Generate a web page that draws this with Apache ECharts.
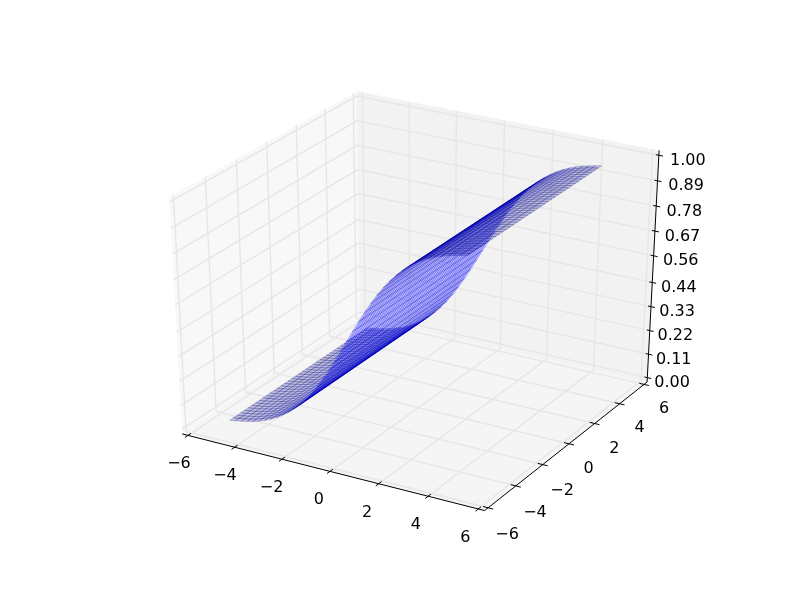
<!DOCTYPE html>
<html><head><meta charset="utf-8">
<style>html,body{margin:0;padding:0;background:#fff}#c{width:800px;height:600px}</style>
<script src="https://cdn.jsdelivr.net/npm/echarts@6/dist/echarts.min.js"></script>
</head><body><div id="c"></div>
<script>
const xTicks=[-6,-4,-2,0,2,4,6];
const yTicks=[-6,-4,-2,0,2,4,6];
const zTicks=[0,0.11,0.22,0.33,0.44,0.56,0.67,0.78,0.89,1];
const zTickLabels=['0.00','0.11','0.22','0.33','0.44','0.56','0.67','0.78','0.89','1.00'];
const gridX=[-5,-4.75,-4.5,-4.25,-4,-3.75,-3.5,-3.25,-3,-2.75,-2.5,-2.25,-2,-1.75,-1.5,-1.25,-1,-0.75,-0.5,-0.25,0,0.25,0.5,0.75,1,1.25,1.5,1.75,2,2.25,2.5,2.75,3,3.25,3.5,3.75,4,4.25,4.5,4.75];
const gridY=gridX;
const zProfile=[.018,.0219,.0266,.0323,.0392,.0474,.0573,.0691,.0832,.0998,.1192,.1419,.168,.1978,.2315,.2689,.31,.3543,.4013,.4502,.5,.5498,.5987,.6457,.69,.7311,.7685,.8022,.832,.8581,.8808,.9002,.9168,.9309,.9427,.9526,.9608,.9677,.9734,.9781];
const lo=-6.25,hi=6.25,zlo=-1/48,zhi=49/48;

function proj(x,y,z){
  const a=x/12,b=y/12,c=z-0.5, d=10;
  const n=[0.4330127,-0.75,0.5],u=[0.8660254,0.5,0],v=[-0.25,0.4330127,0.8660254];
  const w=d-(n[0]*a+n[1]*b+n[2]*c);
  const xp=(u[0]*a+u[1]*b)/w, yp=(v[0]*a+v[1]*b+v[2]*c)/w;
  return [100+(xp+0.095)/0.185*620, 60+(yp+0.095)/0.185*480, w];
}
const P=(api,p)=>{const q=proj(p[0],p[1],p[2]);return api.coord([q[0],q[1]]);};

const panes=[
 {pts:[[lo,lo,zlo],[lo,hi,zlo],[lo,hi,zhi],[lo,lo,zhi]],fill:'rgba(242,242,242,0.5)'},
 {pts:[[lo,hi,zlo],[hi,hi,zlo],[hi,hi,zhi],[lo,hi,zhi]],fill:'rgba(230,230,230,0.5)'},
 {pts:[[lo,lo,zlo],[hi,lo,zlo],[hi,hi,zlo],[lo,hi,zlo]],fill:'rgba(236,236,236,0.5)'}
];
const gridLines=[];
xTicks.forEach(t=>gridLines.push([[t,lo,zlo],[t,hi,zlo],[t,hi,zhi]]));
yTicks.forEach(t=>gridLines.push([[hi,t,zlo],[lo,t,zlo],[lo,t,zhi]]));
zTicks.forEach(t=>gridLines.push([[lo,lo,t],[lo,hi,t],[hi,hi,t]]));
const axisLines=[[[lo,lo,zlo],[hi,lo,zlo]],[[hi,lo,zlo],[hi,hi,zlo]],[[hi,hi,zlo],[hi,hi,zhi]]];
xTicks.forEach(t=>axisLines.push([[t,lo+0.2,zlo],[t,lo-0.2,zlo]]));
yTicks.forEach(t=>axisLines.push([[hi-0.2,t,zlo],[hi+0.2,t,zlo]]));
zTicks.forEach(t=>axisLines.push([[hi-0.12,hi,t],[hi+0.16,hi,t]]));

const cells=[];
for(let i=0;i<gridX.length-1;i++)for(let j=0;j<gridY.length-1;j++){
  const c=[[gridX[i],gridY[j],zProfile[i]],[gridX[i+1],gridY[j],zProfile[i+1]],[gridX[i+1],gridY[j+1],zProfile[i+1]],[gridX[i],gridY[j+1],zProfile[i]]];
  const d=c.reduce((s,p)=>s+proj(p[0],p[1],p[2])[2],0)/4;
  const dx=gridX[i+1]-gridX[i],dz=zProfile[i+1]-zProfile[i];
  const nn=Math.hypot(dz,dx);
  const sh=(dz*1+dx*0.5)/nn;
  cells.push({c,d,sh});
}
cells.sort((a,b)=>b.d-a.d);
const shs=cells.map(c=>c.sh),mn=Math.min(...shs),mx=Math.max(...shs);

const lerp=(a,b,f)=>a+f*(b-a);
const xLabelOff=[[-9,28.5],[-13,29]],yLabelOff=[[19,27],[20,24]],zLabelOff=[[24.7,5.5],[29,5.5]];
const labels=[];
xTicks.forEach((t,i)=>{const f=i/(xTicks.length-1);labels.push({p:[t,lo,zlo],o:[lerp(xLabelOff[0][0],xLabelOff[1][0],f),lerp(xLabelOff[0][1],xLabelOff[1][1],f)],s:String(t).replace('-','\u2212')});});
yTicks.forEach((t,i)=>{const f=i/(yTicks.length-1);labels.push({p:[hi,t,zlo],o:[lerp(yLabelOff[0][0],yLabelOff[1][0],f),lerp(yLabelOff[0][1],yLabelOff[1][1],f)],s:String(t).replace('-','\u2212')});});
zTicks.forEach((t,i)=>{const f=i/(zTicks.length-1);labels.push({p:[hi,hi,t],o:[lerp(zLabelOff[0][0],zLabelOff[1][0],f),5.5],s:zTickLabels[i]});});

const polyS=(data,fn,z)=>({type:'custom',coordinateSystem:'cartesian2d',data:data.map((_,i)=>[i]),renderItem:(p,api)=>fn(data[api.value(0)],api),silent:true,clip:false,z,animation:false,encode:{x:[],y:[]}});
const chart=echarts.init(document.getElementById('c'),null,{renderer:'canvas'});
chart.setOption({
 animation:false,backgroundColor:'#fff',tooltip:{show:false},
 grid:{left:0,right:0,top:0,bottom:0},
 xAxis:{type:'value',min:0,max:800,show:false},
 yAxis:{type:'value',min:0,max:600,show:false},
 series:[
  polyS(panes,(d,api)=>({type:'polygon',shape:{points:d.pts.map(p=>P(api,p))},style:{fill:d.fill,stroke:null}}),1),
  polyS(gridLines,(d,api)=>({type:'polyline',shape:{points:d.map(p=>P(api,p))},style:{fill:null,stroke:'rgb(230,230,230)',lineWidth:1.4}}),2),
  polyS(axisLines,(d,api)=>({type:'polyline',shape:{points:d.map(p=>P(api,p))},style:{fill:null,stroke:'#000',lineWidth:1}}),3),
  polyS(cells,(d,api)=>{const k=0.5+0.5*(d.sh-mn)/(mx-mn);const b=Math.round(255*k);return {type:'polygon',shape:{points:d.c.map(p=>P(api,p))},style:{fill:'rgba(0,0,'+b+',0.22)',stroke:'rgba(0,0,'+b+',0.32)',lineWidth:0.6}};},4),
  polyS(labels,(d,api)=>{const q=P(api,d.p);return {type:'text',x:q[0]+d.o[0],y:q[1]+d.o[1],style:{text:d.s,fontFamily:'DejaVu Sans',fontSize:16,fill:'#000',align:'center',verticalAlign:'middle'}};},5)
 ]
});
</script></body></html>
